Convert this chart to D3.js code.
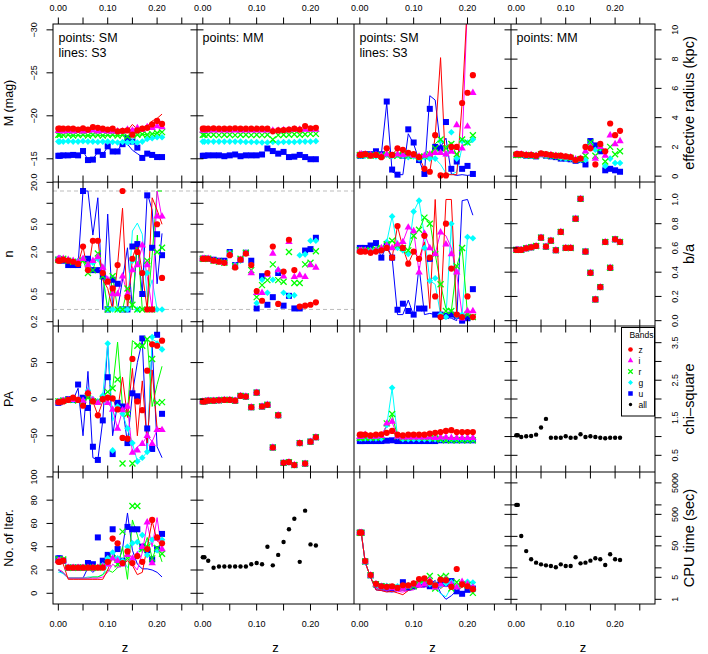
<!DOCTYPE html>
<html>
<head>
<meta charset="utf-8">
<script src="https://cdn.jsdelivr.net/npm/d3@7"></script>
<style>
  body { margin: 0; background: #fff; }
  svg { display: block; }
  text { font-family: "Liberation Sans", Arial, Helvetica, sans-serif; fill: #000; }
</style>
</head>
<body>
<svg id="chart" width="708" height="654"></svg>
<script>
// redshift of each test galaxy (two nearly overlapping at z ~ 0)
const zs = [0, 0.003, 0.01, 0.02, 0.03, 0.04, 0.05, 0.06, 0.07, 0.08, 0.09, 0.10, 0.11, 0.12, 0.13, 0.14, 0.15, 0.16, 0.17, 0.18, 0.19, 0.20, 0.21];

// absolute magnitude
const magSM_z = [-18.5,-18.5,-18.5,-18.5,-18.5,-18.4,-18.55,-18.4,-18.7,-18.6,-18.5,-18.4,-18.5,-18.2,-18.25,-18.3,-17.8,-18.3,-18.5,-18.6,-19.0,-19.4,-19.05];
const magSM_i = [-18.25,-18.25,-18.2,-18.25,-18.2,-18.25,-18.2,-18.25,-18.3,-18.2,-18.25,-18.2,-18.2,-18.2,-18.2,-18.4,-18.3,-18.6,-18.4,-18.7,-18.6,-18.8,-18.7];
const magSM_r = [-17.8,-17.8,-17.75,-17.8,-17.7,-17.75,-17.8,-17.7,-17.8,-17.75,-17.7,-17.75,-17.8,-17.7,-17.75,-17.6,-17.7,-17.8,-17.85,-17.8,-17.9,-18.0,-18.1];
const magSM_g = [-17.0,-17.0,-17.0,-17.05,-17.0,-17.0,-17.05,-17.0,-17.0,-16.95,-17.0,-17.0,-16.95,-16.9,-16.95,-16.9,-16.95,-16.9,-17.0,-17.3,-17.4,-17.5,-17.5];
const magSM_u = [-15.35,-15.35,-15.4,-15.4,-15.45,-15.4,-15.9,-14.85,-14.9,-15.85,-15.45,-16.45,-15.85,-15.85,-16.7,-17.4,-17.0,-16.3,-15.1,-15.6,-15.45,-15.2,-15.2];
const magS3_z = [-18.4,-18.4,-18.45,-18.4,-18.4,-18.4,-18.5,-18.4,-18.5,-18.5,-18.45,-18.4,-18.45,-18.3,-18.4,-18.3,-19.0,-18.4,-18.6,-18.8,-19.4,-19.7,-20.2];
const magS3_i = [-18.25,-18.25,-18.2,-18.2,-18.2,-18.2,-18.2,-18.2,-18.25,-18.2,-18.2,-18.2,-18.2,-18.2,-18.2,-18.3,-18.5,-18.4,-18.5,-18.6,-18.9,-19.5,-19.3];
const magS3_r = [-17.75,-17.75,-17.75,-17.75,-17.7,-17.7,-17.75,-17.7,-17.75,-17.75,-17.7,-17.7,-17.75,-17.7,-17.7,-17.65,-17.7,-17.75,-17.8,-17.85,-17.9,-18.0,-18.2];
const magS3_g = [-17.0,-17.0,-17.0,-17.0,-17.0,-17.0,-17.0,-17.0,-17.0,-16.95,-16.95,-16.95,-16.9,-16.9,-16.9,-16.85,-16.9,-16.9,-17.0,-17.2,-17.4,-17.5,-17.5];
const magS3_u = [-15.4,-15.4,-15.4,-15.4,-15.4,-15.4,-15.9,-14.9,-14.95,-15.8,-15.5,-16.4,-15.8,-15.9,-16.9,-16.7,-16.0,-15.6,-15.2,-15.6,-15.5,-15.3,-15.2];
const magMM_z = [-18.5,-18.5,-18.5,-18.55,-18.5,-18.5,-18.5,-18.55,-18.5,-18.5,-18.5,-18.5,-18.5,-18.5,-18.2,-18.3,-18.35,-18.4,-18.5,-18.4,-18.8,-18.55,-18.6];
const magMM_i = [-18.3,-18.3,-18.3,-18.3,-18.3,-18.3,-18.3,-18.3,-18.3,-18.3,-18.3,-18.3,-18.3,-18.3,-18.3,-18.3,-18.35,-18.35,-18.4,-18.4,-18.4,-18.4,-18.4];
const magMM_r = [-17.8,-17.8,-17.8,-17.8,-17.75,-17.8,-17.8,-17.75,-17.8,-17.8,-17.75,-17.8,-17.75,-17.8,-17.25,-17.75,-17.8,-17.8,-17.85,-17.8,-17.85,-17.9,-17.9];
const magMM_g = [-17.0,-17.0,-17.0,-17.0,-17.0,-17.0,-17.0,-17.0,-17.0,-16.95,-16.95,-16.95,-16.9,-16.9,-16.95,-16.9,-16.95,-16.95,-16.95,-17.0,-17.0,-17.0,-17.05];
const magMM_u = [-15.35,-15.35,-15.4,-15.4,-15.4,-15.3,-15.4,-15.5,-15.3,-15.4,-15.4,-15.4,-15.5,-16.2,-15.9,-15.6,-15.8,-15.2,-15.25,-15.45,-15.2,-14.95,-14.95];

// effective radius (kpc)
const reSM_z = [1.45,1.45,1.5,1.4,1.45,1.3,1.9,1.45,1.9,1.8,1.6,1.5,1.3,0.5,0.3,2.8,0.05,0.05,2.0,2.0,5.0,5.7,6.9];
const reSM_i = [1.5,1.5,1.5,1.45,1.45,1.4,1.5,1.4,1.5,1.45,1.5,1.4,1.35,1.4,1.5,1.6,1.6,1.5,1.7,3.5,1.9,3.4,5.7];
const reSM_r = [1.45,1.45,1.45,1.4,1.45,1.4,1.45,1.4,1.4,1.45,1.4,1.4,1.3,1.35,1.5,1.9,2.5,1.9,2.2,1.5,2.5,2.3,2.8];
const reSM_g = [1.4,1.4,1.4,1.4,1.35,1.4,1.45,1.4,1.45,1.4,1.3,1.35,1.2,1.3,1.2,1.2,2.4,1.5,3.0,1.2,2.4,2.3,2.5];
const reSM_u = [1.4,1.4,1.5,1.5,1.7,1.5,5.1,0.45,0.1,1.4,3.2,2.3,1.1,0.15,4.6,2.0,1.9,3.7,0.5,1.0,0.5,0.7,0.15];
const reS3_z = [1.45,1.45,1.5,1.4,1.4,1.35,1.9,1.5,1.85,1.75,1.6,1.5,1.3,0.5,0.3,2.7,8.1,0.1,0.1,0.1,5.0,12,12];
const reS3_i = [1.5,1.5,1.5,1.45,1.45,1.4,1.5,1.4,1.5,1.45,1.45,1.4,1.35,1.4,1.5,1.55,1.6,1.5,1.6,1.5,2.0,12,12];
const reS3_r = [1.45,1.45,1.45,1.4,1.45,1.4,1.45,1.4,1.4,1.45,1.4,1.4,1.3,1.35,1.4,2.2,2.6,2.0,2.3,1.4,2.1,2.2,2.4];
const reS3_g = [1.4,1.4,1.4,1.4,1.35,1.4,1.45,1.4,1.45,1.4,1.3,1.35,1.2,1.3,1.2,1.2,0.8,0.2,0.1,0.3,2.0,2.4,2.3];
const reS3_u = [1.45,1.45,1.5,1.5,1.6,1.5,5.0,0.3,0.1,0.1,2.9,2.2,1.1,0.15,5.5,5.2,2.0,2.6,0.15,0.05,0.1,0.05,0.1];
const reMM_z = [1.5,1.5,1.5,1.45,1.45,1.4,1.55,1.5,1.45,1.4,1.4,1.35,1.3,1.1,1.2,2.0,1.9,0.8,2.2,1.7,3.6,2.8,3.1];
const reMM_i = [1.5,1.5,1.5,1.45,1.45,1.4,1.5,1.45,1.45,1.4,1.35,1.3,1.3,1.15,1.2,1.7,2.0,1.2,2.0,1.4,2.8,2.2,2.4];
const reMM_r = [1.45,1.45,1.45,1.45,1.4,1.4,1.5,1.45,1.4,1.4,1.3,1.3,1.25,1.15,1.15,1.4,2.3,1.4,1.9,1.0,2.0,1.5,1.7];
const reMM_g = [1.45,1.45,1.45,1.4,1.4,1.4,1.5,1.4,1.4,1.35,1.25,1.2,1.2,1.1,1.1,1.1,2.2,1.8,1.9,0.7,1.2,0.9,0.9];
const reMM_u = [1.45,1.45,1.45,1.4,1.4,1.35,1.5,1.4,1.35,1.3,1.2,1.2,1.15,1.05,1.1,0.8,2.4,2.1,1.7,0.4,0.5,0.4,0.3];

// Sersic index n
const nSM_z = [1.5,1.5,1.55,1.5,1.45,1.35,2.4,1.1,2.9,2.9,1.0,0.75,0.6,1.3,15,0.45,1.6,2.0,1.0,0.3,0.3,5.0,0.85];
const nSM_i = [1.6,1.6,1.6,1.55,1.5,1.45,1.6,1.3,1.5,1.7,1.2,0.8,0.5,0.5,0.9,0.5,1.1,1.3,2.5,1.3,0.3,6.5,6.5];
const nSM_r = [1.55,1.55,1.6,1.5,1.45,1.4,1.5,1.0,1.1,1.9,0.9,0.3,0.9,0.3,0.3,0.6,0.35,0.3,0.3,1.5,0.3,2.0,2.3];
const nSM_g = [1.6,1.6,1.6,1.55,1.5,1.5,1.6,1.3,1.4,1.6,1.0,0.3,0.3,0.3,0.3,0.3,1.5,0.3,1.0,1.0,0.3,0.3,0.3];
const nSM_u = [1.55,1.55,1.5,1.3,1.3,1.3,15,1.6,1.1,1.1,0.9,0.3,0.8,0.7,0.3,0.3,2.4,2.6,0.5,13,2.3,3.6,1.8];
const nS3_z = [1.5,1.5,1.55,1.5,1.45,1.35,2.4,1.0,3.0,3.0,0.8,0.6,0.3,1.3,8.5,0.3,1.6,2.8,1.0,0.3,12,8,5];
const nS3_i = [1.6,1.6,1.6,1.55,1.5,1.45,1.6,1.3,1.5,1.7,1.2,0.8,0.5,0.5,0.9,0.5,1.1,1.3,2.4,0.9,0.3,15,6];
const nS3_r = [1.55,1.55,1.6,1.5,1.45,1.4,1.5,1.0,1.1,1.9,0.9,0.3,0.9,0.3,0.3,0.6,0.3,3.5,0.3,0.3,1.8,15,15];
const nS3_g = [1.6,1.6,1.6,1.55,1.5,1.5,1.6,1.3,1.4,1.6,1.0,0.3,0.3,0.3,0.3,0.3,4.0,5.2,3.6,0.45,0.8,0.3,0.3];
const nS3_u = [1.55,1.55,1.5,1.3,1.3,1.3,15,15,3.5,12,0.3,7,0.3,0.3,0.8,2.3,0.3,2.6,0.5,14,8,0.7,3.7];
const nMM_z = [1.6,1.6,1.6,1.5,1.45,1.4,1.8,1.2,1.55,1.9,1.3,0.55,0.4,1.0,2.4,0.36,1.05,3.0,1.1,0.33,0.34,0.35,0.38];
const nMM_i = [1.6,1.6,1.6,1.5,1.45,1.4,1.85,1.25,1.55,1.9,1.0,0.52,0.52,0.95,1.9,1.1,0.9,2.8,0.88,0.93,0.88,1.3,1.2];
const nMM_r = [1.6,1.6,1.6,1.5,1.45,1.4,1.9,1.25,1.6,1.95,1.1,0.45,0.67,0.79,1.33,0.79,0.75,2.0,0.72,0.72,1.33,1.4,2.05];
const nMM_g = [1.6,1.6,1.6,1.5,1.45,1.4,1.95,1.3,1.5,1.95,1.3,0.37,0.8,0.52,0.8,1.1,0.52,0.47,0.48,1.8,1.85,2.9,2.9];
const nMM_u = [1.6,1.6,1.6,1.55,1.5,1.5,2.0,1.3,1.55,1.95,1.5,0.31,0.9,0.35,0.45,1.0,0.34,0.47,0.31,0.31,2.1,2.2,3.2];
const nLimits = [0.3, 15];

// axis ratio b/a
const baSM_z = [0.57,0.57,0.57,0.56,0.57,0.58,0.6,0.52,0.78,0.6,0.47,0.57,0.51,0.7,0.52,0.2,0.03,0.8,0.43,0.05,0.03,0.2,0.03];
const baSM_i = [0.58,0.58,0.58,0.57,0.58,0.6,0.62,0.6,0.63,0.65,0.77,0.74,0.4,0.72,0.6,0.55,0.73,0.63,0.55,0.4,0.02,0.08,0.08];
const baSM_r = [0.58,0.58,0.58,0.58,0.59,0.6,0.63,0.66,0.62,0.6,0.58,0.7,0.75,0.85,0.8,0.55,0.3,0.08,0.08,0.45,0.6,0.05,0.03];
const baSM_g = [0.58,0.58,0.58,0.58,0.59,0.6,0.65,0.86,0.6,0.58,0.55,0.9,0.99,0.6,0.33,0.35,0.05,0.03,0.8,0.04,0.05,0.69,0.68];
const baSM_u = [0.6,0.6,0.6,0.62,0.64,0.52,0.62,0.52,0.09,0.14,0.08,0.05,0.1,0.1,0.51,0.05,0.05,0.04,0.05,0.04,0.0,0.02,0.26];
const baS3_z = [0.57,0.57,0.57,0.56,0.57,0.58,0.6,0.52,0.78,0.6,0.47,0.57,0.51,0.65,0.1,1.0,0.05,1.0,1.0,0.05,0.05,0.05,0.04];
const baS3_i = [0.58,0.58,0.58,0.57,0.58,0.6,0.62,0.6,0.63,0.65,0.77,0.74,0.4,0.72,0.6,0.55,0.73,0.7,0.6,0.38,0.05,0.08,0.07];
const baS3_r = [0.58,0.58,0.58,0.58,0.59,0.6,0.63,0.66,0.62,0.6,0.58,0.7,0.75,0.85,0.82,0.55,0.3,0.1,0.08,0.45,0.6,0.05,0.02];
const baS3_g = [0.58,0.58,0.58,0.58,0.59,0.6,0.65,0.86,0.6,0.58,0.55,0.9,0.99,0.7,0.33,0.3,0.05,0.03,0.8,0.04,0.05,0.69,0.68];
const baS3_u = [0.6,0.6,0.6,0.62,0.64,0.52,0.62,0.52,0.05,0.05,0.17,0.04,0.45,0.05,0.06,0.05,0.04,0.03,0.02,0.0,0.99,1.0,0.87];
const baMM = [0.584,0.584,0.584,0.597,0.605,0.616,0.685,0.611,0.66,0.581,0.732,0.6,0.6,0.841,1.005,0.57,0.395,0.175,0.277,0.649,0.436,0.671,0.649];

// position angle
const paSM_z = [-4,-4,-3,-1,2,-1,-9,8,-3,-22,0,2,1,-14,-53,-54,55,-3,-15,39,75,73,80];
const paSM_i = [-4,-4,-2,-1,-1,-1,-2,10,-1,-5,0,-5,-14,-40,-15,-10,-73,-70,-61,-50,-61,-42,-42];
const paSM_r = [-3,-3,-2,-1,-1,-2,-5,2,-3,-3,0,10,15,27,-88,-20,-88,73,73,82,55,-5,-4];
const paSM_g = [-3,-3,-2,-1,-1,-1,-2,12,0,-3,5,76,-70,-10,-20,-40,-60,-85,-80,-72,85,76,68];
const paSM_u = [-5,-4,-2,0,-1,20,2,-12,-65,-83,-29,30,-75,-5,-10,-60,8,4,83,-40,-68,88,-20];
const paS3_z = [-4,-4,-3,-1,1,-1,-8,6,-3,-22,-3,5,1,-15,30,-25,42,-50,25,-60,40,-40,-40];
const paS3_i = [-4,-4,-2,-1,-1,-1,-2,8,-1,-5,0,-5,-14,-40,-15,-10,-73,-65,-61,-50,-58,-42,-42];
const paS3_r = [-3,-3,-2,-1,-1,-2,-4,2,-3,-3,5,10,15,78,-10,-20,80,75,70,82,-10,20,45];
const paS3_g = [-3,-3,-2,-1,-1,-1,-2,10,0,-3,5,76,-30,-10,-20,-40,-60,-85,-80,-72,82,78,68];
const paS3_u = [-5,-5,-2,0,-1,15,-50,38,-80,-83,-29,77,-50,-5,-10,-60,8,50,80,-73,75,-65,-80];
const paMM = [-3,-3,-2,-2,-1.5,-1,-1,-2,4.5,3.6,-11,9,-10,-7.7,-66,-22,-87,-86,-90,-60,-88,-58,-52];

// reduced chi-square
const chiSM_z = [1.05,1.05,1.05,1.03,1.05,1.06,1.1,1.15,1.05,1.03,1.05,1.05,1.05,1.05,1.08,1.1,1.12,1.15,1.17,1.12,1.12,1.12,1.12];
const chiSM_i = [1.0,1.0,1.05,1.0,1.0,1.02,1.35,1.4,1.0,0.98,0.98,0.98,0.98,0.98,0.98,0.97,0.98,0.98,0.97,0.97,0.97,0.97,0.97];
const chiSM_r = [0.97,0.97,0.97,0.97,0.97,1.0,1.35,1.6,1.0,0.97,0.97,0.98,0.98,0.97,0.97,0.95,0.92,0.9,0.9,0.9,0.9,0.9,0.9];
const chiSM_g = [0.95,0.95,0.95,0.95,0.95,0.95,1.3,2.3,1.0,0.93,0.93,0.93,0.93,0.93,0.93,0.93,0.93,0.93,0.92,0.92,0.92,0.92,0.92];
const chiSM_u = [0.88,0.88,0.88,0.88,0.88,0.88,0.89,0.9,0.88,0.88,0.88,0.88,0.88,0.88,0.88,0.88,0.9,0.9,0.9,0.9,0.9,0.9,0.9];
const chiS3_z = [1.04,1.04,1.03,1.03,1.03,1.04,1.08,1.12,1.04,1.03,1.03,1.04,1.04,1.04,1.06,1.08,1.1,1.12,1.14,1.1,1.1,1.1,1.1];
const chiS3_i = [1.0,1.0,1.02,1.0,1.0,1.02,1.3,1.38,1.0,0.98,0.98,0.98,0.98,0.98,0.98,0.97,0.98,0.98,0.97,0.97,0.97,0.97,0.97];
const chiS3_r = [0.97,0.97,0.97,0.97,0.97,1.0,1.3,1.58,1.0,0.97,0.97,0.98,0.98,0.97,0.97,0.95,0.92,0.9,0.9,0.9,0.9,0.9,0.9];
const chiS3_g = [0.95,0.95,0.95,0.95,0.95,0.95,1.3,2.28,1.0,0.93,0.93,0.93,0.93,0.93,0.93,0.93,0.93,0.93,0.92,0.92,0.92,0.92,0.92];
const chiS3_u = [0.88,0.88,0.88,0.88,0.88,0.88,0.89,0.9,0.88,0.88,0.88,0.88,0.88,0.88,0.88,0.88,0.9,0.9,0.9,0.9,0.9,0.9,0.9];
const chiMM = [1.033,1.033,0.99,1.007,1.016,1.05,1.24,1.47,0.97,0.97,0.97,1.007,0.97,0.97,1.06,0.99,1.007,0.99,0.97,0.953,0.97,0.97,0.97];

// number of iterations
const itSM_z = [27,27,28,22,22,22,22,22,22,22,22,27,47,43,26,36,26,32,27,38,63,48,43];
const itSM_i = [28,28,28,22,22,22,22,22,22,22,23,25,30,28,25,33,30,33,40,61,26,47,38];
const itSM_r = [29,29,29,22,22,22,22,22,22,22,23,26,30,25,53,30,75,75,38,40,30,39,34];
const itSM_g = [28,28,28,22,22,22,22,22,22,22,24,30,35,30,28,40,43,44,50,33,46,37,46];
const itSM_u = [30,30,28,22,22,22,22,26,25,48,28,33,55,38,28,57,55,55,40,37,29,38,51];
const itS3_z = [27,27,25,12,12,12,12,12,12,12,12,20,31,27,25,28,24,16,18,40,62,45,42];
const itS3_i = [20,20,18,13,13,13,13,13,13,13,14,18,25,22,24,30,25,20,35,60,40,65,35];
const itS3_r = [20,20,18,13,13,13,13,13,14,14,16,20,18,22,40,12,63,50,35,48,30,40,27];
const itS3_g = [18,18,17,13,13,13,13,14,14,14,16,24,33,26,30,22,30,35,40,45,42,38,43];
const itS3_u = [20,19,17,13,13,13,13,22,18,22,28,32,37,25,38,69,37,25,21,21,20,18,14];
const itMM = [31,31,28,22,23,23,23,23,23,23,25,26,25,40,24,33,44,55,64,27,71,42,41];

// CPU time (sec)
const cpuSM_z = [131,131,16.5,5.9,3.1,2.6,2.5,2.6,2.3,2.8,2.8,3.2,4.4,4.6,3.5,2.8,4.2,4.0,2.5,9.2,3.0,2.6,2.1];
const cpuSM_i = [131,131,16,5.8,3.0,2.5,2.4,2.3,2.2,2.2,2.6,3.0,2.8,3.0,4.0,2.4,3.0,4.2,3.0,2.4,3.6,3.0,2.4];
const cpuSM_r = [131,131,16,5.8,3.0,2.6,2.5,2.4,2.3,2.4,2.5,2.6,3.0,3.2,5.5,2.2,5.0,5.5,2.2,3.5,3.0,2.8,1.6];
const cpuSM_g = [131,131,16,5.8,3.1,2.7,2.7,2.5,2.6,2.7,2.8,3.0,3.2,3.5,3.0,3.0,2.8,3.2,3.5,2.5,3.2,3.6,3.4];
const cpuSM_u = [131,131,16,5.8,3.0,2.6,2.4,2.3,2.3,3.5,2.4,2.6,3.0,3.0,2.6,2.8,3.5,3.2,3.8,1.8,1.5,2.0,2.2];
const cpuS3_z = [120,120,15,5,2.0,1.9,1.7,1.8,1.6,1.4,1.9,2.2,2.5,3.0,2.5,3.8,2.2,3.0,2.5,2.0,2.4,3.0,1.9];
const cpuS3_i = [120,120,15,5,2.2,2.0,1.9,1.9,1.8,1.7,1.9,2.0,2.5,2.4,3.5,2.0,3.0,2.5,2.8,2.2,3.2,3.0,2.0];
const cpuS3_r = [120,120,15,5,2.3,2.1,2.0,2.1,2.0,1.9,2.2,2.4,2.8,3.0,4.5,2.0,4.0,4.2,2.3,3.0,2.5,3.0,1.6];
const cpuS3_g = [120,120,15,5,2.3,2.1,2.1,2.0,2.0,2.0,2.3,2.6,3.0,3.2,3.0,2.5,1.5,1.2,2.5,1.8,2.6,3.2,2.6];
const cpuS3_u = [120,120,15,5,2.0,1.9,1.8,1.7,1.9,1.9,2.0,2.4,2.6,3.6,3.0,4.0,1.6,1.0,1.3,1.9,3.4,2.6,2.2];
const cpuMM = [1000,1000,103,34,18.7,14.6,12.9,12.0,11.4,10.4,12.9,11.4,11.4,21.6,13.9,14.6,16.9,20.1,18.7,12.3,26.9,18.7,17.8];

// tick values and labels
const xTicks = [0, 0.05, 0.10, 0.15, 0.20, 0.25];
const xLabels = ['0.00', null, '0.10', null, '0.20', null];
const leftTicks = [
  {v: [-30, -25, -20, -15], l: ['\u221230', '\u221225', '\u221220', '\u221215']},
  {v: [0.2, 0.5, 1, 2, 5, 10, 20], l: ['0.2', '0.5', null, '2.0', '5.0', null, '20.0']},
  {v: [-50, 0, 50], l: ['\u221250', '0', '50']},
  {v: [0, 20, 40, 60, 80, 100], l: ['0', '20', '40', '60', '80', '100']}
];
const rightTicks = [
  {v: [0, 2, 4, 6, 8, 10], l: ['0', '2', '4', '6', '8', '10']},
  {v: [0, 0.2, 0.4, 0.6, 0.8, 1.0], l: ['0.0', '0.2', '0.4', '0.6', '0.8', '1.0']},
  {v: [0.5, 1, 1.5, 2, 2.5, 3, 3.5], l: ['0.5', null, '1.5', null, '2.5', null, '3.5']},
  {v: [1, 5, 10, 50, 100, 500, 1000, 5000], l: ['1', '5', null, '50', null, '500', null, '5000']}
];
const leftTitles = ['M (mag)', 'n', 'PA', 'No. of Iter.'];
const rightTitles = ['effective radius (kpc)', 'b/a', 'chi\u2013square', 'CPU time (sec)'];
const legendBands = ['z', 'i', 'r', 'g', 'u', 'all'];

// layout
const colX = [53, 197, 354, 511, 655];
const rowY = [24, 182, 326, 472, 604];
const xDomain = [-0.0108, 0.2808];
const tick = 6.5;

const bands = ['u', 'g', 'r', 'i', 'z']; // drawing order, z ends on top
const bandColor = {z: '#ff0000', i: '#ff00ff', r: '#00ff00', g: '#00ffff', u: '#0000ff', all: '#000000'};

function yScale(row, side) {
  const range = [rowY[row + 1], rowY[row]];
  if (side === 'L') {
    if (row === 0) return d3.scaleLinear().domain([-12.3, -30.68]).range(range);
    if (row === 1) return d3.scaleLog().domain([0.1736, 20.2]).range(range);
    if (row === 2) return d3.scaleLinear().domain([-99.5, 100]).range(range);
    return d3.scaleLinear().domain([-9.2, 104.2]).range(range);
  }
  if (row === 0) return d3.scaleLinear().domain([-0.4, 10.4]).range(range);
  if (row === 1) return d3.scaleLinear().domain([-0.044, 1.144]).range(range);
  if (row === 2) return d3.scaleLinear().domain([0.056, 3.944]).range(range);
  return d3.scaleLog().domain([0.71, 11100]).range(range);
}
const xScale = (c) => d3.scaleLinear().domain(xDomain).range([colX[c], colX[c + 1]]);

const byBand = (z, i, r, g, u) => ({z, i, r, g, u});
const same = (a) => ({z: a, i: a, r: a, g: a, u: a});

const panels = [
  {r: 0, c: 0, side: 'L', pts: byBand(magSM_z, magSM_i, magSM_r, magSM_g, magSM_u), lines: byBand(magS3_z, magS3_i, magS3_r, magS3_g, magS3_u), note: ['points: SM', 'lines: S3']},
  {r: 0, c: 1, side: 'L', pts: byBand(magMM_z, magMM_i, magMM_r, magMM_g, magMM_u), note: ['points: MM']},
  {r: 0, c: 2, side: 'R', pts: byBand(reSM_z, reSM_i, reSM_r, reSM_g, reSM_u), lines: byBand(reS3_z, reS3_i, reS3_r, reS3_g, reS3_u), note: ['points: SM', 'lines: S3']},
  {r: 0, c: 3, side: 'R', pts: byBand(reMM_z, reMM_i, reMM_r, reMM_g, reMM_u), note: ['points: MM']},
  {r: 1, c: 0, side: 'L', pts: byBand(nSM_z, nSM_i, nSM_r, nSM_g, nSM_u), lines: byBand(nS3_z, nS3_i, nS3_r, nS3_g, nS3_u), limits: true},
  {r: 1, c: 1, side: 'L', pts: byBand(nMM_z, nMM_i, nMM_r, nMM_g, nMM_u), limits: true},
  {r: 1, c: 2, side: 'R', pts: byBand(baSM_z, baSM_i, baSM_r, baSM_g, baSM_u), lines: byBand(baS3_z, baS3_i, baS3_r, baS3_g, baS3_u)},
  {r: 1, c: 3, side: 'R', pts: same(baMM)},
  {r: 2, c: 0, side: 'L', pts: byBand(paSM_z, paSM_i, paSM_r, paSM_g, paSM_u), lines: byBand(paS3_z, paS3_i, paS3_r, paS3_g, paS3_u)},
  {r: 2, c: 1, side: 'L', pts: same(paMM)},
  {r: 2, c: 2, side: 'R', pts: byBand(chiSM_z, chiSM_i, chiSM_r, chiSM_g, chiSM_u), lines: byBand(chiS3_z, chiS3_i, chiS3_r, chiS3_g, chiS3_u)},
  {r: 2, c: 3, side: 'R', pts: {all: chiMM}, legend: true},
  {r: 3, c: 0, side: 'L', pts: byBand(itSM_z, itSM_i, itSM_r, itSM_g, itSM_u), lines: byBand(itS3_z, itS3_i, itS3_r, itS3_g, itS3_u)},
  {r: 3, c: 1, side: 'L', pts: {all: itMM}},
  {r: 3, c: 2, side: 'R', pts: byBand(cpuSM_z, cpuSM_i, cpuSM_r, cpuSM_g, cpuSM_u), lines: byBand(cpuS3_z, cpuS3_i, cpuS3_r, cpuS3_g, cpuS3_u)},
  {r: 3, c: 3, side: 'R', pts: {all: cpuMM}}
];

const svg = d3.select('#chart');
const defs = svg.append('defs');

// one marker per band, drawn centred on 0,0
function drawMark(sel, band, k = 1) {
  const col = bandColor[band];
  if (band === 'z') sel.append('circle').attr('r', 3.1 * k).attr('fill', col);
  else if (band === 'i') sel.append('path').attr('d', `M0,${-4.2 * k}L${3.7 * k},${2.2 * k}L${-3.7 * k},${2.2 * k}Z`).attr('fill', col);
  else if (band === 'r') sel.append('path').attr('d', `M${-3 * k},${-3 * k}L${3 * k},${3 * k}M${-3 * k},${3 * k}L${3 * k},${-3 * k}`).attr('stroke', col).attr('stroke-width', 1.3).attr('fill', 'none');
  else if (band === 'g') sel.append('path').attr('d', `M0,${-3.3 * k}L${3.3 * k},0L0,${3.3 * k}L${-3.3 * k},0Z`).attr('fill', col);
  else if (band === 'u') sel.append('rect').attr('x', -3 * k).attr('y', -3 * k).attr('width', 6 * k).attr('height', 6 * k).attr('fill', col);
  else sel.append('circle').attr('r', 2.2 * k).attr('fill', col);
}

panels.forEach((p) => {
  const x = xScale(p.c);
  const y = yScale(p.r, p.side);
  const id = `clip-${p.r}-${p.c}`;
  defs.append('clipPath').attr('id', id).append('rect')
    .attr('x', colX[p.c]).attr('y', rowY[p.r])
    .attr('width', colX[p.c + 1] - colX[p.c]).attr('height', rowY[p.r + 1] - rowY[p.r]);
  const g = svg.append('g').attr('clip-path', `url(#${id})`);

  if (p.limits) {
    nLimits.forEach((v) => {
      g.append('line')
        .attr('x1', colX[p.c]).attr('x2', colX[p.c + 1])
        .attr('y1', y(v)).attr('y2', y(v))
        .attr('stroke', '#bdbdbd').attr('stroke-dasharray', '4,3');
    });
  }

  if (p.lines) {
    bands.forEach((b) => {
      const line = d3.line().x((d, i) => x(zs[i])).y((d) => y(d));
      g.append('path').datum(p.lines[b])
        .attr('d', line).attr('fill', 'none')
        .attr('stroke', bandColor[b]).attr('stroke-width', 1);
    });
  }

  const order = p.pts.all ? ['all'] : bands;
  order.forEach((b) => {
    g.selectAll(null).data(p.pts[b]).enter().append('g')
      .attr('transform', (d, i) => `translate(${x(zs[i])},${y(d)})`)
      .each(function () { drawMark(d3.select(this), b); });
  });

  if (p.note) {
    p.note.forEach((t, i) => {
      svg.append('text').attr('x', colX[p.c] + 5.5).attr('y', rowY[p.r] + 17.5 + i * 15)
        .attr('font-size', 12.5).text(t);
    });
  }

  if (p.legend) {
    const lx = 621.5, ly = 327.5;
    const lg = svg.append('g');
    lg.append('rect').attr('x', lx).attr('y', ly).attr('width', 33).attr('height', 88.5)
      .attr('fill', '#fff').attr('stroke', '#000').attr('stroke-width', 1);
    lg.append('text').attr('x', lx + 20).attr('y', ly + 10.5).attr('text-anchor', 'middle')
      .attr('font-size', 8.5).text('Bands');
    legendBands.forEach((b, i) => {
      const yy = ly + 22 + i * 11;
      const m = lg.append('g').attr('transform', `translate(${lx + 9},${yy})`);
      drawMark(m, b, 0.75);
      lg.append('text').attr('x', lx + 17).attr('y', yy + 3).attr('font-size', 8.5).text(b);
    });
  }
});

// panel frames
const frame = svg.append('g').attr('stroke', '#000').attr('stroke-width', 1).attr('fill', 'none');
frame.append('rect').attr('x', colX[0]).attr('y', rowY[0]).attr('width', colX[4] - colX[0]).attr('height', rowY[4] - rowY[0]);
colX.slice(1, 4).forEach((cx) => frame.append('line').attr('x1', cx).attr('x2', cx).attr('y1', rowY[0]).attr('y2', rowY[4]));
rowY.slice(1, 4).forEach((ry) => frame.append('line').attr('x1', colX[0]).attr('x2', colX[4]).attr('y1', ry).attr('y2', ry));

// x ticks on every horizontal border
const axes = svg.append('g').attr('stroke', '#000').attr('stroke-width', 1);
for (let c = 0; c < 4; c++) {
  const x = xScale(c);
  rowY.forEach((ry, k) => {
    xTicks.forEach((v) => {
      const y1 = k === 0 ? ry - tick : ry - (k === 4 ? 0 : tick);
      const y2 = k === 0 ? ry : ry + tick;
      axes.append('line').attr('x1', x(v)).attr('x2', x(v)).attr('y1', y1).attr('y2', y2);
    });
  });
  xTicks.forEach((v, i) => {
    if (!xLabels[i]) return;
    svg.append('text').attr('x', x(v)).attr('y', 11).attr('text-anchor', 'middle').attr('font-size', 9).text(xLabels[i]);
    svg.append('text').attr('x', x(v)).attr('y', 626.5).attr('text-anchor', 'middle').attr('font-size', 9).text(xLabels[i]);
  });
  svg.append('text').attr('x', (colX[c] + colX[c + 1]) / 2).attr('y', 652).attr('text-anchor', 'middle')
    .attr('font-size', 13).text('z');
}

// y ticks: left axis, its copy at the column-2 border, right axis and its copy at the column-4 border
for (let r = 0; r < 4; r++) {
  const yl = yScale(r, 'L');
  const yr = yScale(r, 'R');
  leftTicks[r].v.forEach((v, i) => {
    const yy = yl(v);
    axes.append('line').attr('x1', colX[0] - tick).attr('x2', colX[0]).attr('y1', yy).attr('y2', yy);
    axes.append('line').attr('x1', colX[1] - tick).attr('x2', colX[1] + tick).attr('y1', yy).attr('y2', yy);
    if (leftTicks[r].l[i]) {
      svg.append('text').attr('transform', `translate(33.5,${yy}) rotate(-90)`)
        .attr('text-anchor', 'middle').attr('dy', '0.35em').attr('font-size', 9).text(leftTicks[r].l[i]);
    }
  });
  rightTicks[r].v.forEach((v, i) => {
    const yy = yr(v);
    axes.append('line').attr('x1', colX[4]).attr('x2', colX[4] + tick).attr('y1', yy).attr('y2', yy);
    axes.append('line').attr('x1', colX[3] - tick).attr('x2', colX[3] + tick).attr('y1', yy).attr('y2', yy);
    if (rightTicks[r].l[i]) {
      svg.append('text').attr('transform', `translate(675,${yy}) rotate(-90)`)
        .attr('text-anchor', 'middle').attr('dy', '0.35em').attr('font-size', 9).text(rightTicks[r].l[i]);
    }
  });
  const mid = (rowY[r] + rowY[r + 1]) / 2;
  svg.append('text').attr('transform', `translate(9,${mid}) rotate(-90)`)
    .attr('text-anchor', 'middle').attr('dy', '0.35em').attr('font-size', 12.5).text(leftTitles[r]);
  svg.append('text').attr('transform', `translate(689,${mid}) rotate(-90)`)
    .attr('text-anchor', 'middle').attr('dy', '0.35em').attr('font-size', 14.5).text(rightTitles[r]);
}
</script>
</body>
</html>
